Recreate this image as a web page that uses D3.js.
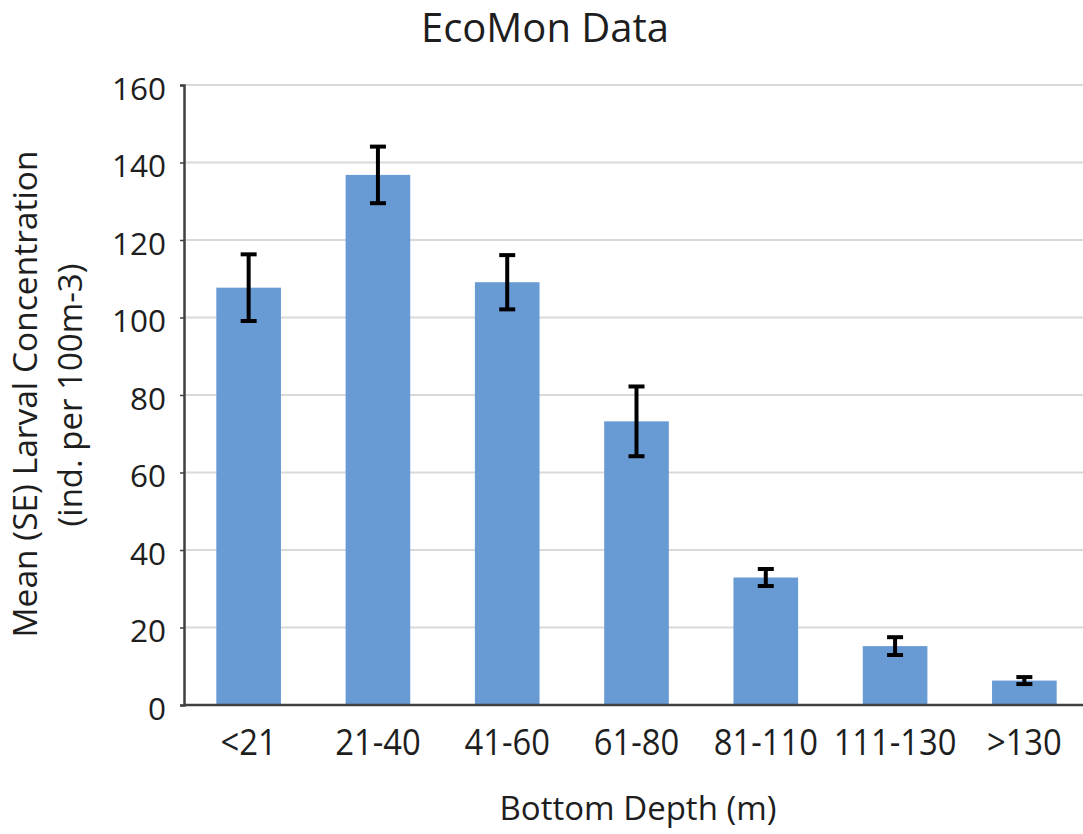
<!DOCTYPE html>
<html>
<head>
<meta charset="utf-8">
<script src="https://cdn.jsdelivr.net/npm/d3@7"></script>
<style>
  html, body { margin: 0; padding: 0; background: #fff; }
  svg { display: block; }
  text { font-family: "Open Sans", sans-serif; fill: #1e1e1e; }
</style>
</head>
<body>
<svg id="chart" width="1083" height="834"></svg>
<script>
// ---- data ----
const categories = ["<21", "21-40", "41-60", "61-80", "81-110", "111-130", ">130"];
const means = [107.7, 136.8, 109.1, 73.2, 32.9, 15.2, 6.3];
const se = [8.6, 7.3, 7.0, 9.0, 2.2, 2.3, 0.9];
const yTicks = [0, 20, 40, 60, 80, 100, 120, 140, 160];
const title = "EcoMon Data";
const xTitle = "Bottom Depth (m)";
const yTitle1 = "Mean (SE) Larval Concentration";
const yTitle2 = "(ind. per 100m-3)";

const svg = d3.select("#chart");
const mLeft = 184, mRight = 1089, mTop = 85, mBottom = 705;

const x = d3.scaleBand().domain(categories).range([mLeft, mRight]).paddingInner(0.5).paddingOuter(0.25);
const y = d3.scaleLinear().domain([0, 160]).range([mBottom, mTop]);

// gridlines
svg.append("g").selectAll("line").data(yTicks.filter(d => d > 0)).join("line")
  .attr("x1", mLeft).attr("x2", mRight)
  .attr("y1", d => y(d)).attr("y2", d => y(d))
  .attr("stroke", "#d9d9d9").attr("stroke-width", 2);

// bars
svg.append("g").selectAll("rect").data(categories).join("rect")
  .attr("x", d => x(d))
  .attr("width", x.bandwidth())
  .attr("y", (d, i) => y(means[i]))
  .attr("height", (d, i) => y(0) - y(means[i]))
  .attr("fill", "#689ad4");

// error bars
const eb = svg.append("g").attr("stroke", "#000").attr("stroke-width", 4);
categories.forEach((c, i) => {
  const cx = x(c) + x.bandwidth() / 2;
  const hi = y(means[i] + se[i]), lo = y(means[i] - se[i]);
  eb.append("line").attr("x1", cx).attr("x2", cx).attr("y1", hi).attr("y2", lo);
  eb.append("line").attr("x1", cx - 8).attr("x2", cx + 8).attr("y1", hi).attr("y2", hi);
  eb.append("line").attr("x1", cx - 8).attr("x2", cx + 8).attr("y1", lo).attr("y2", lo);
});

// y axis
const yAxis = svg.append("g").attr("transform", `translate(${mLeft},0)`)
  .call(d3.axisLeft(y).tickValues(yTicks).tickSize(4).tickPadding(14));
yAxis.select(".domain").attr("stroke", "#404040").attr("stroke-width", 2.5);
yAxis.selectAll(".tick line").attr("stroke", "#404040").attr("stroke-width", 1.5);
yAxis.selectAll(".tick text")
  .style("font-family", "'Open Sans', sans-serif").style("font-size", "31.5px")
  .attr("fill", "#1e1e1e").attr("dy", "0.45em");

// x axis
const xAxis = svg.append("g").attr("transform", `translate(0,${mBottom})`)
  .call(d3.axisBottom(x).tickSize(0).tickPadding(26));
xAxis.select(".domain").attr("stroke", "#404040").attr("stroke-width", 2.5)
  .attr("d", `M${mLeft},0H${mRight}`);
xAxis.selectAll(".tick text")
  .style("font-family", "'Open Sans', sans-serif").style("font-size", "36px")
  .attr("fill", "#1e1e1e").attr("y", 24).attr("dy", "0.72em")
  .attr("transform", "scale(0.91,1)");

// titles
svg.append("text").attr("x", 545).attr("y", 42).attr("text-anchor", "middle")
  .style("font-size", "40px").text(title);
svg.append("text").attr("x", 638).attr("y", 820).attr("text-anchor", "middle")
  .style("font-size", "33px").text(xTitle);
svg.append("text").attr("transform", "translate(37,394) rotate(-90)").attr("text-anchor", "middle")
  .style("font-size", "33.5px").text(yTitle1);
svg.append("text").attr("transform", "translate(82,395) rotate(-90)").attr("text-anchor", "middle")
  .style("font-size", "33px").text(yTitle2);
</script>
</body>
</html>
